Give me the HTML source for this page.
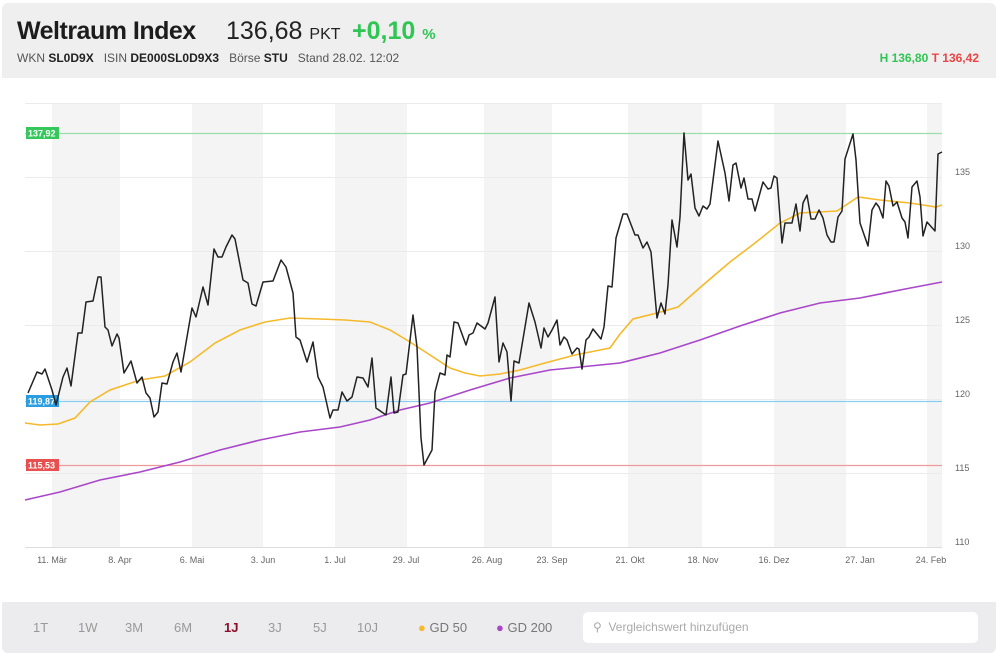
<!DOCTYPE html>
<html><head><meta charset="utf-8"><style>
body{margin:0;background:#fff;width:1000px;height:660px;overflow:hidden;font-family:"Liberation Sans",sans-serif;}
.card{position:absolute;left:2px;top:3px;width:994px;height:650px;border-radius:6px;overflow:hidden;background:#fff;}
.hdr{position:absolute;left:0;top:0;width:994px;height:75px;background:#efeff0;}
.bot{position:absolute;left:0;top:599px;width:994px;height:52px;background:#ececee;}
.t{position:absolute;white-space:nowrap;}
</style></head><body>
<div class="card">
<div class="hdr">
<div class="t" style="left:15px;top:14px;font-size:25px;font-weight:bold;color:#1c1c1c;letter-spacing:-0.5px">Weltraum Index</div>
<div class="t" style="left:224px;top:14px;font-size:25px;color:#222">136,68 <span style="font-size:16px">PKT</span></div>
<div class="t" style="left:350px;top:14px;font-size:25px;font-weight:bold;color:#2fc653">+0,10 <span style="font-size:15px">%</span></div>
<div class="t" style="left:15px;top:48px;font-size:12px;color:#555">WKN <b style="color:#222">SL0D9X</b> &nbsp; ISIN <b style="color:#222">DE000SL0D9X3</b> &nbsp; Börse <b style="color:#222">STU</b> &nbsp; Stand 28.02. 12:02</div>
<div class="t" style="right:17px;top:48px;font-size:12px;font-weight:bold"><span style="color:#2fc653">H 136,80</span> <span style="color:#e84545">T 136,42</span></div>
</div>
<div class="bot">
<div class="t" style="left:0;top:18px;font-size:13px;color:#999;width:560px">
<span style="position:absolute;left:31px">1T</span><span style="position:absolute;left:76px">1W</span><span style="position:absolute;left:123px">3M</span><span style="position:absolute;left:172px">6M</span><span style="position:absolute;left:222px;color:#8b0f2a;font-weight:bold">1J</span><span style="position:absolute;left:266px">3J</span><span style="position:absolute;left:311px">5J</span><span style="position:absolute;left:355px">10J</span>
<span style="position:absolute;left:416px;color:#777"><span style="color:#f5b92a">●</span> GD 50</span><span style="position:absolute;left:494px;color:#777"><span style="color:#a946c9">●</span> GD 200</span></div>
<div style="position:absolute;left:581px;top:10px;width:395px;height:31px;background:#fff;border-radius:5px"></div>
<div class="t" style="left:591px;top:18px;font-size:12px;color:#aaa">&#9906;&nbsp; Vergleichswert hinzufügen</div>
</div>
</div>
<svg style="position:absolute;left:0;top:0" width="1000" height="660" font-family="Liberation Sans, sans-serif">
<g fill="#f4f4f4">
<rect x="52" y="103" width="68" height="444"/><rect x="192" y="103" width="71" height="444"/><rect x="335" y="103" width="72" height="444"/><rect x="484" y="103" width="68" height="444"/><rect x="628" y="103" width="74" height="444"/><rect x="774" y="103" width="72" height="444"/><rect x="927" y="103" width="15" height="444"/>
</g>
<g stroke="#ebebeb" stroke-width="1">
<line x1="25" x2="942" y1="103.5" y2="103.5"/><line x1="25" x2="942" y1="177.5" y2="177.5"/><line x1="25" x2="942" y1="251.5" y2="251.5"/><line x1="25" x2="942" y1="325.5" y2="325.5"/><line x1="25" x2="942" y1="399.5" y2="399.5"/><line x1="25" x2="942" y1="473.5" y2="473.5"/><line x1="25" x2="942" y1="547.5" y2="547.5" stroke="#ddd"/>
</g>
<g font-size="9" fill="#666">
<text x="955" y="175">135</text><text x="955" y="249">130</text><text x="955" y="323">125</text><text x="955" y="397">120</text><text x="955" y="471">115</text><text x="955" y="545">110</text>
</g>
<g font-size="9" fill="#666" text-anchor="middle">
<text x="52" y="563">11. Mär</text><text x="120" y="563">8. Apr</text><text x="192" y="563">6. Mai</text><text x="263" y="563">3. Jun</text><text x="335" y="563">1. Jul</text><text x="406" y="563">29. Jul</text><text x="487" y="563">26. Aug</text><text x="552" y="563">23. Sep</text><text x="630" y="563">21. Okt</text><text x="703" y="563">18. Nov</text><text x="774" y="563">16. Dez</text><text x="860" y="563">27. Jan</text><text x="931" y="563">24. Feb</text>
</g>
<line x1="25" x2="942" y1="133.5" y2="133.5" stroke="#9ddcab" stroke-width="1.2"/>
<line x1="25" x2="942" y1="401.5" y2="401.5" stroke="#8acdf0" stroke-width="1.2"/>
<line x1="25" x2="942" y1="465.5" y2="465.5" stroke="#ef9a9a" stroke-width="1.2"/>
<rect x="26" y="127" width="33" height="12" fill="#34c75a"/><text x="28" y="136.5" font-size="9" fill="#fff" font-weight="bold">137,92</text>
<rect x="26" y="395" width="33" height="12" fill="#2a9de0"/><text x="28" y="404.5" font-size="9" fill="#fff" font-weight="bold">119,87</text>
<rect x="26" y="459" width="33" height="12" fill="#e85050"/><text x="28" y="468.5" font-size="9" fill="#fff" font-weight="bold">115,53</text>
<polyline fill="none" stroke="#a946c9" stroke-width="1.6" points="25,500 60,492 100,480 140,472 180,462 220,450 260,440 300,432 340,427 370,420 400,410 430,403 470,390 510,378 550,370 590,366 620,363 660,353 700,340 740,326 780,313 820,303 860,298 900,290 942,282"/>
<polyline fill="none" stroke="#f5b92a" stroke-width="1.6" points="25,423 40,425 58,424 75,418 90,402 110,390 140,380 165,376 190,362 215,343 240,330 265,322 290,318 320,319 345,320 370,322 390,330 410,342 430,355 450,368 465,373 480,376 500,374 520,370 545,363 575,355 600,350 610,348 620,334 633,319 657,313 678,307 703,285 730,262 755,243 780,223 800,213 837,211 858,197 880,200 910,203 936,207 942,205"/>
<polyline fill="none" stroke="#222" stroke-width="1.5" stroke-linejoin="round" points="28,393 37,372 42,374 45,369 52,390 56,405 63,377 67,368 71,386 78,333 82,333 86,302 93,301 98,277 101,277 105,327 108,330 112,346 117,334 119,338 124,373 131,361 137,383 142,377 146,393 150,398 154,417 158,412 162,383 167,384 173,362 177,353 181,372 187,337 192,308 196,317 203,287 208,305 214,249 218,257 222,257 226,247 232,235 235,239 243,280 248,283 252,304 256,306 263,282 273,281 281,260 286,267 293,293 296,337 300,340 307,362 313,342 318,377 323,387 330,418 333,410 338,410 342,392 347,401 352,397 357,377 363,378 368,387 372,358 376,408 386,415 391,377 394,413 398,412 403,375 406,374 413,315 417,347 421,438 424,465 432,450 435,392 440,373 445,375 447,355 450,357 454,322 458,323 466,345 469,335 473,333 477,323 485,329 488,323 495,297 499,362 503,343 507,352 511,401 514,361 519,363 529,303 535,322 541,348 544,328 548,337 552,330 557,320 560,345 564,337 567,340 572,354 577,348 579,349 582,369 586,340 589,337 593,329 601,339 604,327 608,286 612,287 616,238 623,214 627,214 635,235 638,235 643,248 647,242 651,252 657,318 661,303 665,314 668,285 672,220 677,247 680,217 684,133 688,180 691,174 695,208 699,216 703,206 707,209 710,204 718,141 725,173 729,201 733,165 736,163 741,188 744,178 748,199 752,199 755,211 763,182 768,189 771,188 774,176 777,178 782,243 785,223 792,223 796,204 800,231 803,203 807,195 811,219 815,219 819,210 823,218 827,235 831,242 834,242 838,217 842,211 845,159 853,134 856,160 860,223 868,246 872,210 876,203 879,207 883,218 886,181 889,186 893,206 897,202 902,218 905,222 908,238 912,187 917,181 920,197 923,236 927,222 935,231 938,154 942,152"/>
</svg>
</body></html>
